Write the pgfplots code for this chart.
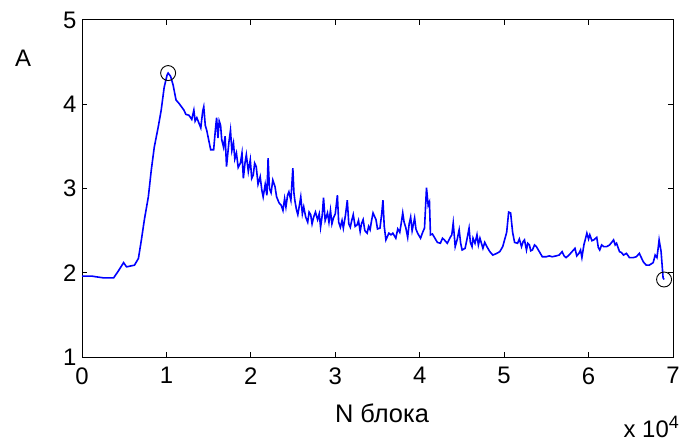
\documentclass[border=0pt]{standalone}
\usepackage{pgfplots}
\pgfplotsset{compat=1.18}
\usepackage{fontspec}
\setmainfont{Liberation Sans}
\begin{document}
\begin{tikzpicture}
\begin{axis}[
 at={(0,0)}, anchor=south west,
 width=591bp, height=337bp, scale only axis,
 xmin=0, xmax=70000, ymin=1, ymax=5,
 xtick={0,10000,20000,30000,40000,50000,60000,70000},
 xticklabels={0,1,2,3,4,5,6,7},
 scaled x ticks=false,
 ytick={1,2,3,4,5},
 tick align=inside, major tick length=5bp,
 axis line style={line width=1bp},
 tick style={line width=1bp, black},
 ticklabel style={font=\fontsize{24}{26}\selectfont},
 /pgf/number format/assume math mode=true,
 xticklabel style={yshift=-7bp}, yticklabel style={xshift=-2bp},
 clip=false,
]
\addplot[color={rgb,255:red,0;green,0;blue,255}, line width=1.6bp] coordinates {
(0,1.96) (1173,1.96) (1800,1.95) (2500,1.94) (3752,1.94) (4300,2.02) (4925,2.12) (5276,2.07)
(6214,2.09) (6683,2.17) (7035,2.39) (7387,2.63) (7856,2.90) (8208,3.22) (8559,3.49)
(9028,3.73) (9380,3.93) (9732,4.20) (10084,4.35) (10201,4.37) (10500,4.33) (10787,4.23)
(11139,4.05) (11490,4.01) (12077,3.93) (12300,3.88) (12663,3.87) (13000,3.82) (13249,3.93)
(13400,3.80) (13601,3.84) (14070,3.72) (14300,3.92) (14422,3.97) (14600,3.75) (14774,3.69)
(15243,3.46) (15594,3.46) (15800,3.70) (15946,3.84) (16100,3.60) (16250,3.80) (16415,3.75)
(16550,3.58) (16767,3.49) (16950,3.62) (17119,3.26) (17400,3.55) (17588,3.69) (17750,3.45)
(17939,3.54) (18100,3.35) (18291,3.42) (18500,3.25) (18760,3.30) (18950,3.42) (19112,3.12)
(19300,3.30) (19464,3.40) (19700,3.20) (19933,3.34) (20100,3.12) (20284,3.16) (20450,3.30)
(20636,3.26) (20850,3.05) (21105,3.14) (21300,2.98) (21457,2.90) (21700,3.05) (21900,2.92)
(22043,3.36) (22200,3.00) (22395,2.95) (22600,3.10) (22864,3.02) (23050,2.90) (23216,2.86)
(23333,2.83) (23600,2.80) (23802,2.74) (24000,2.88) (24154,2.78) (24350,2.92) (24505,2.96)
(24740,2.86) (24974,3.24) (25100,2.95) (25209,2.86) (25400,2.75) (25561,2.69) (25750,2.80)
(25912,2.90) (26100,2.70) (26264,2.78) (26500,2.66) (26733,2.60) (26900,2.72) (27085,2.69)
(27250,2.58) (27437,2.66) (27650,2.72) (27906,2.63) (28100,2.70) (28258,2.54) (28450,2.68)
(28609,2.89) (28800,2.62) (29078,2.71) (29250,2.60) (29430,2.74) (29600,2.58) (29782,2.65)
(30000,2.70) (30251,2.92) (30400,2.60) (30603,2.54) (30800,2.62) (30954,2.53) (31200,2.68)
(31423,2.86) (31600,2.58) (31775,2.54) (31950,2.62) (32127,2.69) (32350,2.55) (32596,2.57)
(32750,2.62) (32947,2.49) (33100,2.58) (33299,2.63) (33500,2.50) (33768,2.47) (33950,2.55)
(34120,2.51) (34300,2.62) (34472,2.71) (34823,2.63) (35000,2.52) (35292,2.53) (35500,2.70)
(35644,2.86) (35800,2.55) (35996,2.39) (36348,2.47) (36600,2.45) (36817,2.47) (37168,2.41)
(37400,2.52) (37637,2.48) (37800,2.58) (37989,2.71) (38150,2.60) (38341,2.54) (38575,2.42)
(38750,2.58) (38927,2.66) (39100,2.50) (39396,2.65) (39550,2.52) (39748,2.47) (40100,2.41)
(40350,2.48) (40569,2.53) (40803,3.01) (41000,2.80) (41155,2.84) (41272,2.45) (41500,2.46)
(41741,2.42) (42093,2.36) (42445,2.35) (42700,2.41) (42914,2.39) (43265,2.35) (43617,2.42)
(43800,2.45) (43969,2.59) (44203,2.31) (44450,2.40) (44672,2.51) (44850,2.35) (45024,2.27)
(45376,2.29) (45600,2.40) (45845,2.53) (46000,2.36) (46196,2.31) (46314,2.41) (46550,2.35)
(46783,2.45) (46950,2.33) (47135,2.41) (47486,2.29) (47700,2.36) (47955,2.31) (48307,2.25)
(48659,2.21) (49128,2.23) (49480,2.25) (49831,2.31) (50300,2.48) (50535,2.72) (50769,2.71)
(51004,2.48) (51238,2.36) (51590,2.35) (51800,2.40) (52059,2.31) (52250,2.37) (52411,2.39)
(52645,2.27) (52800,2.35) (52997,2.33) (53150,2.26) (53349,2.27) (53600,2.33) (53818,2.31)
(54170,2.25) (54521,2.19) (54990,2.19) (55342,2.20) (55694,2.19) (56163,2.20) (56514,2.21)
(56866,2.25) (57100,2.20) (57335,2.18) (57687,2.21) (58039,2.25) (58390,2.29) (58600,2.20)
(58859,2.23) (59050,2.27) (59211,2.18) (59446,2.33) (59797,2.47) (60000,2.40) (60149,2.45)
(60400,2.38) (60618,2.39) (60970,2.42) (61150,2.30) (61322,2.27) (61550,2.33) (61791,2.31)
(62142,2.31) (62494,2.33) (62963,2.39) (63150,2.33) (63315,2.35) (63666,2.25) (63900,2.24)
(64135,2.21) (64487,2.23) (64839,2.18) (65308,2.18) (65660,2.19) (66011,2.23) (66480,2.13)
(66832,2.09) (67184,2.09) (67653,2.12) (67887,2.21) (68100,2.18) (68239,2.29) (68356,2.39)
(68591,2.25) (68825,1.94) (68942,1.92)
};
\addplot[only marks, mark=o, mark size=7.5bp, black, line width=0.9bp] coordinates {(10201,4.37) (68942,1.92)};
\end{axis}
\node[font=\fontsize{24}{26}\selectfont] at (-59bp,299bp) {A};
\node[font=\fontsize{25.5}{28}\selectfont] at (300bp,-56bp) {N блока};
\node[font=\fontsize{24}{26}\selectfont, anchor=base east, inner sep=0pt] at (597bp,-80bp) {x 10\raisebox{9bp}{\fontsize{18}{20}\selectfont 4}};
\pgfresetboundingbox
\path[use as bounding box] (-82bp,-84bp) rectangle (600bp,357bp);
\end{tikzpicture}
\end{document}
